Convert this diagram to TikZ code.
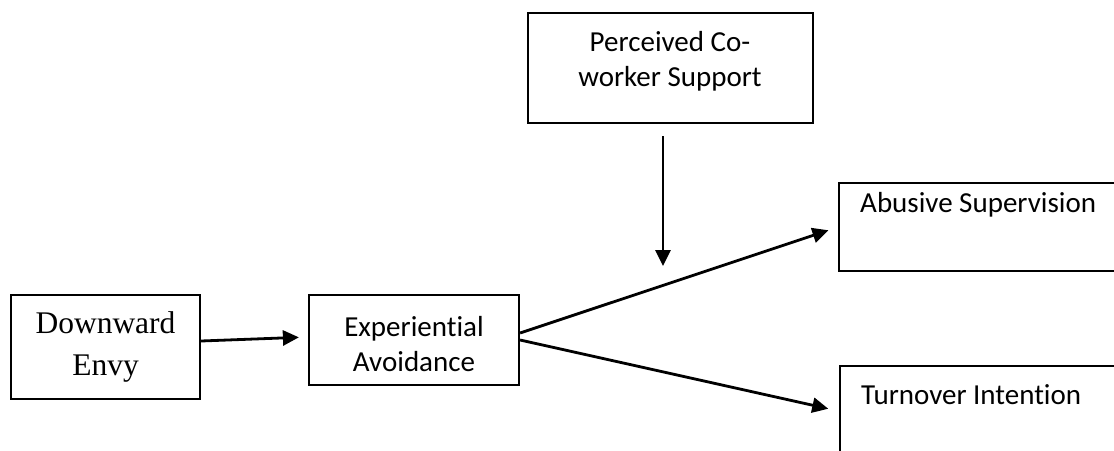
\documentclass[tikz,border=0pt]{standalone}
\usepackage{fontspec}
\setmainfont{Carlito}[Ligatures=NoCommon]
\newfontfamily\serifa{Liberation Serif}
\usetikzlibrary{arrows.meta}

\begin{document}
\begin{tikzpicture}[x=1pt,y=-1pt]
\tikzstyle{caixa}=[draw, rectangle, line width=2.2pt, inner sep=0pt]
\tikzstyle{texto}=[font=\fontsize{29}{35}\selectfont, align=center, inner sep=0pt]
\tikzstyle{seta}=[line width=2.8pt, -{Triangle[length=16pt,width=15pt]}]
\useasboundingbox (0,0) rectangle (1114,450);
 \node[caixa, minimum width=189pt, minimum height=104pt, align=center,
   font=\serifa\fontsize{31.5}{42}\selectfont] (inveja) at (105.5,347) {Downward\\Envy};
 \node[caixa, minimum width=210pt, minimum height=90pt] (evitacao) at (414,340) {};
 \node[texto] (evitacaotxt) at (414,344) {Experiential\\Avoidance};
 \node[caixa, minimum width=285pt, minimum height=110pt] (apoio) at (670.5,68) {};
 \node[texto, anchor=north] (apoiotxt) at (670,31) {Perceived Co-\\worker Support};
 \node[caixa, minimum width=287pt, minimum height=88pt, anchor=north west] (abuso) at (838,182) {};
 \node[texto, anchor=base west] (abusotxt) at (860,212) {Abusive Supervision};
 \node[caixa, minimum width=287pt, minimum height=90pt, anchor=north west] (saida) at (839,365) {};
 \node[texto, anchor=base west] (saidatxt) at (861,404) {Turnover Intention};
 \coordinate (moderacao) at (663,266);
 % setas
 \draw[seta, shorten >=9pt] ([yshift=6pt]inveja.east) -- ([yshift=3pt]evitacao.west);
 \draw[seta, shorten >=10pt] ([yshift=7pt]evitacao.east) -- (abuso.west);
 \draw[seta, shorten >=11pt] (evitacao.east) -- (saida.west);
 \draw[seta] ([xshift=-7.5pt,yshift=-12pt]apoio.south) -- (moderacao);
\end{tikzpicture}
\end{document}
